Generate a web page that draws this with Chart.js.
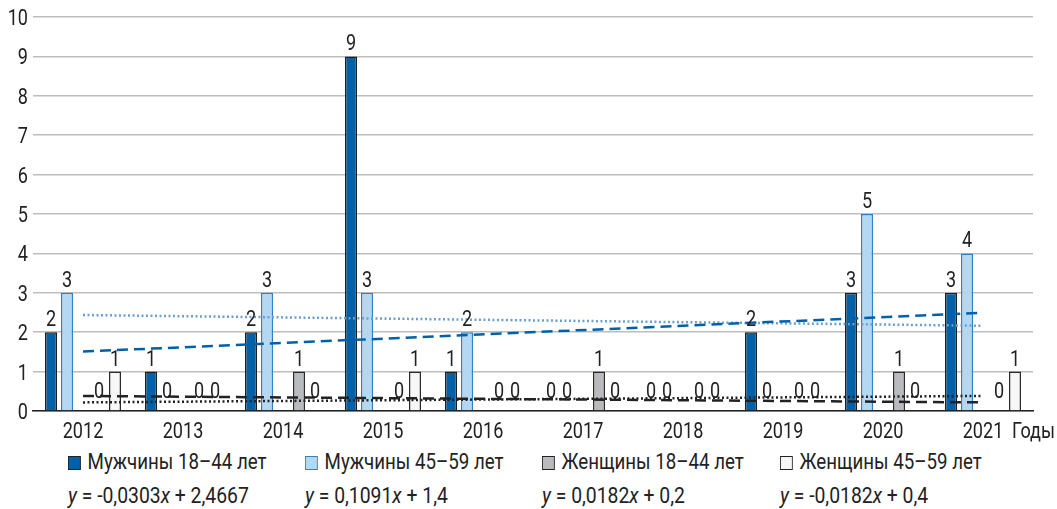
<!DOCTYPE html>
<html>
<head>
<meta charset="utf-8">
<script src="https://cdn.jsdelivr.net/npm/chart.js@4.4.1/dist/chart.umd.min.js"></script>
<style>
  body { margin: 0; background: #fff; }
  #wrap { position: relative; width: 1057px; height: 509px; font-family: Roboto, sans-serif; color: #222; }
  #box { position: absolute; left: 0; top: 0; width: 1057px; height: 445px; }
  .leg { position: absolute; top: 450px; font-size: 22px; line-height: 24px; white-space: nowrap; transform: scaleX(0.85); transform-origin: left top; }
  .leg span.sq { display: inline-block; width: 13px; height: 12px; border: 1.5px solid #222; margin-right: 8px; vertical-align: -1px; }
  .eq { position: absolute; top: 484px; font-size: 22px; line-height: 24px; white-space: nowrap; transform: scaleX(0.88); transform-origin: left top; }
</style>
</head>
<body>
<div id="wrap">
  <div id="box"><canvas id="chart"></canvas></div>
  <div id="legend"></div>
</div>
<script>
const years = ["2012", "2013", "2014", "2015", "2016", "2017", "2018", "2019", "2020", "2021"];
const seriesNames = ["Мужчины 18–44 лет", "Мужчины 45–59 лет", "Женщины 18–44 лет", "Женщины 45–59 лет"];
const men1844 = [2, 1, 2, 9, 1, 0, 0, 2, 3, 3];
const men4559 = [3, 0, 3, 3, 2, 0, 0, 0, 5, 4];
const women1844 = [0, 0, 1, 0, 0, 1, 0, 0, 1, 0];
const women4559 = [1, 0, 0, 1, 0, 0, 0, 0, 0, 1];
const yTicks = [0, 1, 2, 3, 4, 5, 6, 7, 8, 9, 10];
// trend lines as given in the chart's equations (x = 1..10)
const trendSlope = [0.1091, -0.0303, -0.0182, 0.0182];
const trendIntercept = [1.4, 2.4667, 0.4, 0.2];
const equations = ["-0,0303x + 2,4667", "0,1091x + 1,4", "0,0182x + 0,2", "-0,0182x + 0,4"];

const FONT = "22px Roboto, sans-serif";
const NARROW = 0.82; // reference uses a condensed face
const barFill = ["#0061a8", "#b5d8f2", "#b9babd", "#f7f7f7"];
const barBorder = ["#1e1e1e", "#2f80c6", "#2a2a2a", "#2a2a2a"];
const legendX = [68, 305, 542, 780];

const trendLine = (i) => {
  const d = years.map(() => null);
  d[0] = trendSlope[i] * 1 + trendIntercept[i];
  d[years.length - 1] = trendSlope[i] * years.length + trendIntercept[i];
  return d;
};

const barSet = (i, data) => ({
  type: "bar", label: seriesNames[i], data: data,
  backgroundColor: barFill[i], borderColor: barBorder[i], borderWidth: 1.5,
  order: 2, barPercentage: 0.75, categoryPercentage: 0.8
});
const lineSet = (i, color, dash, width) => ({
  type: "line", label: "trend" + i, data: trendLine(i), spanGaps: true,
  borderColor: color, borderDash: dash, borderWidth: width, pointRadius: 0,
  fill: false, order: 0
});

const narrowText = (ctx, text, x, y, align) => {
  ctx.save();
  ctx.translate(x, y);
  ctx.scale(NARROW, 1);
  ctx.textAlign = align;
  ctx.fillText(text, 0, 0);
  ctx.restore();
};

// condensed tick labels, labels over bars and "Годы"
const textLayer = {
  id: "textLayer",
  afterDatasetsDraw(chart) {
    const ctx = chart.ctx;
    ctx.save();
    ctx.font = FONT;
    ctx.fillStyle = "#222";
    ctx.textBaseline = "alphabetic";
    chart.data.datasets.forEach((ds, di) => {
      if (ds.type !== "bar" || ds.blank) return;
      chart.getDatasetMeta(di).data.forEach((el, j) => {
        const v = ds.data[j];
        narrowText(ctx, String(v), el.x, el.y - (v === 0 ? 13 : 6), "center");
      });
    });
    const xs = chart.scales.x, ys = chart.scales.y;
    xs.ticks.forEach((t, i) => narrowText(ctx, years[i], xs.getPixelForTick(i), xs.top + 27, "center"));
    ys.ticks.forEach((t, i) => narrowText(ctx, String(t.value), ys.right - 5, ys.getPixelForTick(i) + 8, "right"));
    narrowText(ctx, "Годы", 1012, xs.top + 27, "left");
    ctx.restore();
  }
};

new Chart(document.getElementById("chart"), {
  type: "bar",
  data: {
    labels: years,
    datasets: [
      barSet(0, men1844),
      barSet(1, men4559),
      { type: "bar", label: "", data: years.map(() => null), blank: true, order: 2, barPercentage: 0.75, categoryPercentage: 0.8 },
      barSet(2, women1844),
      barSet(3, women4559),
      lineSet(0, "#0061a8", [11, 6], 2.5),
      lineSet(1, "#6a9fcf", [2, 2.5], 2.5),
      lineSet(2, "#222", [11, 6], 2.5),
      lineSet(3, "#222", [2, 2.5], 2.5)
    ]
  },
  options: {
    responsive: true,
    maintainAspectRatio: false,
    animation: false,
    layout: { padding: { left: 0, top: 17, right: 24, bottom: 0 } },
    plugins: { legend: { display: false }, tooltip: { enabled: false } },
    scales: {
      x: {
        grid: { display: false },
        border: { display: true, color: "#222", width: 1.5 },
        ticks: { color: "rgba(0,0,0,0)", font: { size: 19 }, padding: 3, maxRotation: 0 },
        afterFit(scale) { scale.height = 34; }
      },
      y: {
        min: 0, max: 10,
        afterBuildTicks(scale) { scale.ticks = yTicks.map(v => ({ value: v })); },
        grid: { color: "#bdbdbd", lineWidth: 1.5, drawTicks: false },
        border: { display: false },
        ticks: { color: "rgba(0,0,0,0)", font: { size: 19 }, padding: 5 },
        afterFit(scale) { scale.width = 33; }
      }
    }
  },
  plugins: [textLayer]
});

// legend and equations under the chart
const legend = document.getElementById("legend");
seriesNames.forEach((name, i) => {
  const d = document.createElement("div");
  d.className = "leg";
  d.style.left = legendX[i] + "px";
  d.innerHTML = '<span class="sq" style="background:' + barFill[i] + ';border-color:' + (i === 1 ? barBorder[1] : "#222") + '"></span>' + name;
  legend.appendChild(d);
  const e = document.createElement("div");
  e.className = "eq";
  e.style.left = legendX[i] + "px";
  e.innerHTML = "<i>y</i> = " + equations[i].replace("x", "<i>x</i>");
  legend.appendChild(e);
});
</script>
</body>
</html>
